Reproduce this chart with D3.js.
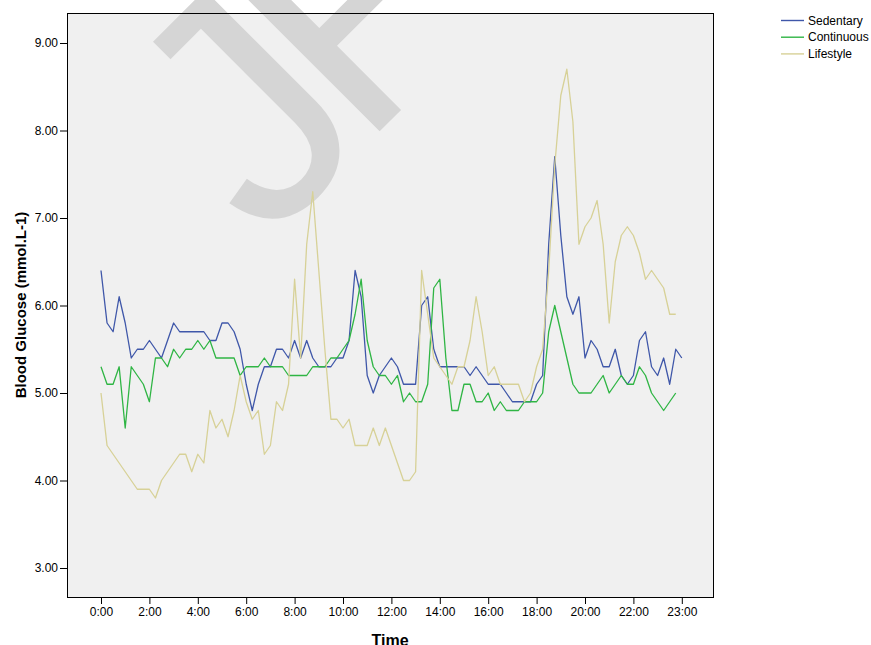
<!DOCTYPE html>
<html>
<head>
<meta charset="utf-8">
<script src="https://cdn.jsdelivr.net/npm/d3@7"></script>
<style>
  body { margin: 0; background: #fff; }
  svg { display: block; }
</style>
</head>
<body>
<div id="chart"></div>
<script>
// readings every 15 min, index 0 = 0:00 on the category axis
const sedentary = [
  6.4, 5.8, 5.7, 6.1, 5.8, 5.4, 5.5, 5.5, 5.6, 5.5, 5.4, 5.6, 5.8, 5.7, 5.7, 5.7,
  5.7, 5.7, 5.6, 5.6, 5.8, 5.8, 5.7, 5.5, 5.1, 4.8, 5.1, 5.3, 5.3, 5.5, 5.5, 5.4,
  5.6, 5.4, 5.6, 5.4, 5.3, 5.3, 5.3, 5.4, 5.4, 5.6, 6.4, 6.1, 5.2, 5.0, 5.2, 5.3,
  5.4, 5.3, 5.1, 5.1, 5.1, 6.0, 6.1, 5.5, 5.3, 5.3, 5.3, 5.3, 5.3, 5.2, 5.3, 5.2,
  5.1, 5.1, 5.1, 5.0, 4.9, 4.9, 4.9, 4.9, 5.1, 5.2, 6.7, 7.7, 6.8, 6.1, 5.9, 6.1,
  5.4, 5.6, 5.5, 5.3, 5.3, 5.5, 5.2, 5.1, 5.2, 5.6, 5.7, 5.3, 5.2, 5.4, 5.1, 5.5,
  5.4
];
const continuous = [
  5.3, 5.1, 5.1, 5.3, 4.6, 5.3, 5.2, 5.1, 4.9, 5.4, 5.4, 5.3, 5.5, 5.4, 5.5, 5.5,
  5.6, 5.5, 5.6, 5.4, 5.4, 5.4, 5.4, 5.2, 5.3, 5.3, 5.3, 5.4, 5.3, 5.3, 5.3, 5.2,
  5.2, 5.2, 5.2, 5.3, 5.3, 5.3, 5.4, 5.4, 5.5, 5.6, 5.9, 6.3, 5.6, 5.3, 5.2, 5.2,
  5.1, 5.2, 4.9, 5.0, 4.9, 4.9, 5.1, 6.2, 6.3, 5.4, 4.8, 4.8, 5.1, 5.1, 4.9, 4.9,
  5.0, 4.8, 4.9, 4.8, 4.8, 4.8, 4.9, 4.9, 4.9, 5.0, 5.7, 6.0, 5.7, 5.4, 5.1, 5.0,
  5.0, 5.0, 5.1, 5.2, 5.0, 5.1, 5.2, 5.1, 5.1, 5.3, 5.2, 5.0, 4.9, 4.8, 4.9, 5.0
];
const lifestyle = [
  5.0, 4.4, 4.3, 4.2, 4.1, 4.0, 3.9, 3.9, 3.9, 3.8, 4.0, 4.1, 4.2, 4.3, 4.3, 4.1,
  4.3, 4.2, 4.8, 4.6, 4.7, 4.5, 4.8, 5.2, 4.9, 4.7, 4.8, 4.3, 4.4, 4.9, 4.8, 5.1,
  6.3, 5.4, 6.7, 7.3, 6.4, 5.5, 4.7, 4.7, 4.6, 4.7, 4.4, 4.4, 4.4, 4.6, 4.4, 4.6,
  4.4, 4.2, 4.0, 4.0, 4.1, 6.4, 5.9, 5.4, 5.3, 5.2, 5.1, 5.3, 5.3, 5.6, 6.1, 5.7,
  5.2, 5.3, 5.1, 5.1, 5.1, 5.1, 4.9, 5.0, 5.3, 5.5, 6.4, 7.6, 8.4, 8.7, 8.1, 6.7,
  6.9, 7.0, 7.2, 6.7, 5.8, 6.5, 6.8, 6.9, 6.8, 6.6, 6.3, 6.4, 6.3, 6.2, 5.9, 5.9
];

const seriesNames = ["Sedentary", "Continuous", "Lifestyle"];
const seriesColors = ["#3f57a9", "#2fb544", "#d7d197"];

const xTickIndex = [0, 8, 16, 24, 32, 40, 48, 56, 64, 72, 80, 88, 96];
const xTickLabels = ["0:00", "2:00", "4:00", "6:00", "8:00", "10:00", "12:00",
  "14:00", "16:00", "18:00", "20:00", "22:00", "23:00"];
const yTicks = [3, 4, 5, 6, 7, 8, 9];

const width = 871, height = 645;
const plot = { left: 67, top: 13, right: 713, bottom: 597 };
const font = "Liberation Sans";

const svg = d3.select("#chart")
  .append("svg")
  .attr("width", width)
  .attr("height", height)
  .attr("font-family", font);

const x = d3.scaleLinear().domain([0, 96]).range([101, 681.8]);
const y = d3.scaleLinear().domain([3, 9]).range([568, 43]);

svg.append("rect")
  .attr("x", plot.left)
  .attr("y", plot.top)
  .attr("width", plot.right - plot.left)
  .attr("height", plot.bottom - plot.top)
  .attr("fill", "#f0f0f0");

// watermark sits under the lines
const mark = svg.append("text")
  .attr("transform", "translate(265,246) rotate(-45)")
  .attr("font-family", font)
  .attr("font-size", 325)
  .attr("fill", "#d5d5d5");
mark.append("tspan").text("J");
mark.append("tspan").attr("dx", -27).text("F");

// lines
const line = d3.line()
  .x((d, i) => x(i))
  .y(d => y(d));

const allSeries = [sedentary, continuous, lifestyle];

svg.append("g")
  .selectAll("path")
  .data(allSeries)
  .join("path")
  .attr("fill", "none")
  .attr("stroke", (d, i) => seriesColors[i])
  .attr("stroke-width", 1.3)
  .attr("stroke-linejoin", "round")
  .attr("d", line);

// frame
svg.append("rect")
  .attr("x", plot.left + 0.5)
  .attr("y", plot.top + 0.5)
  .attr("width", plot.right - plot.left)
  .attr("height", plot.bottom - plot.top)
  .attr("fill", "none")
  .attr("stroke", "#000")
  .attr("stroke-width", 1);

// y axis
const yAxis = d3.axisLeft(y)
  .tickValues(yTicks)
  .tickFormat(d3.format(".2f"))
  .tickSize(7)
  .tickPadding(2);

svg.append("g")
  .attr("transform", `translate(${plot.left},0)`)
  .call(yAxis)
  .call(g => g.select(".domain").remove())
  .call(g => g.selectAll("text").attr("font-size", 12).attr("fill", "#000")
    .attr("font-family", font));

// x axis
const xAxis = d3.axisBottom(x)
  .tickValues(xTickIndex)
  .tickFormat((d, i) => xTickLabels[i])
  .tickSize(7)
  .tickPadding(3);

svg.append("g")
  .attr("transform", `translate(0,${plot.bottom})`)
  .call(xAxis)
  .call(g => g.select(".domain").remove())
  .call(g => g.selectAll("text").attr("font-size", 12).attr("fill", "#000")
    .attr("font-family", font));

// axis titles
svg.append("text")
  .attr("transform", `translate(26,${(plot.top + plot.bottom) / 2}) rotate(-90)`)
  .attr("text-anchor", "middle")
  .attr("font-size", 15)
  .attr("font-weight", "bold")
  .text("Blood Glucose (mmol.L-1)");

svg.append("text")
  .attr("x", (plot.left + plot.right) / 2)
  .attr("y", 646)
  .attr("text-anchor", "middle")
  .attr("font-size", 16)
  .attr("font-weight", "bold")
  .text("Time");

// legend
const legend = svg.append("g")
  .selectAll("g")
  .data(seriesNames)
  .join("g")
  .attr("transform", (d, i) => `translate(781,${20.5 + i * 16.7})`);

legend.append("line")
  .attr("x1", 0).attr("x2", 23)
  .attr("stroke", (d, i) => seriesColors[i])
  .attr("stroke-width", 1.4);

legend.append("text")
  .attr("x", 27)
  .attr("dy", "0.35em")
  .attr("font-size", 12)
  .text(d => d);
</script>
</body>
</html>
